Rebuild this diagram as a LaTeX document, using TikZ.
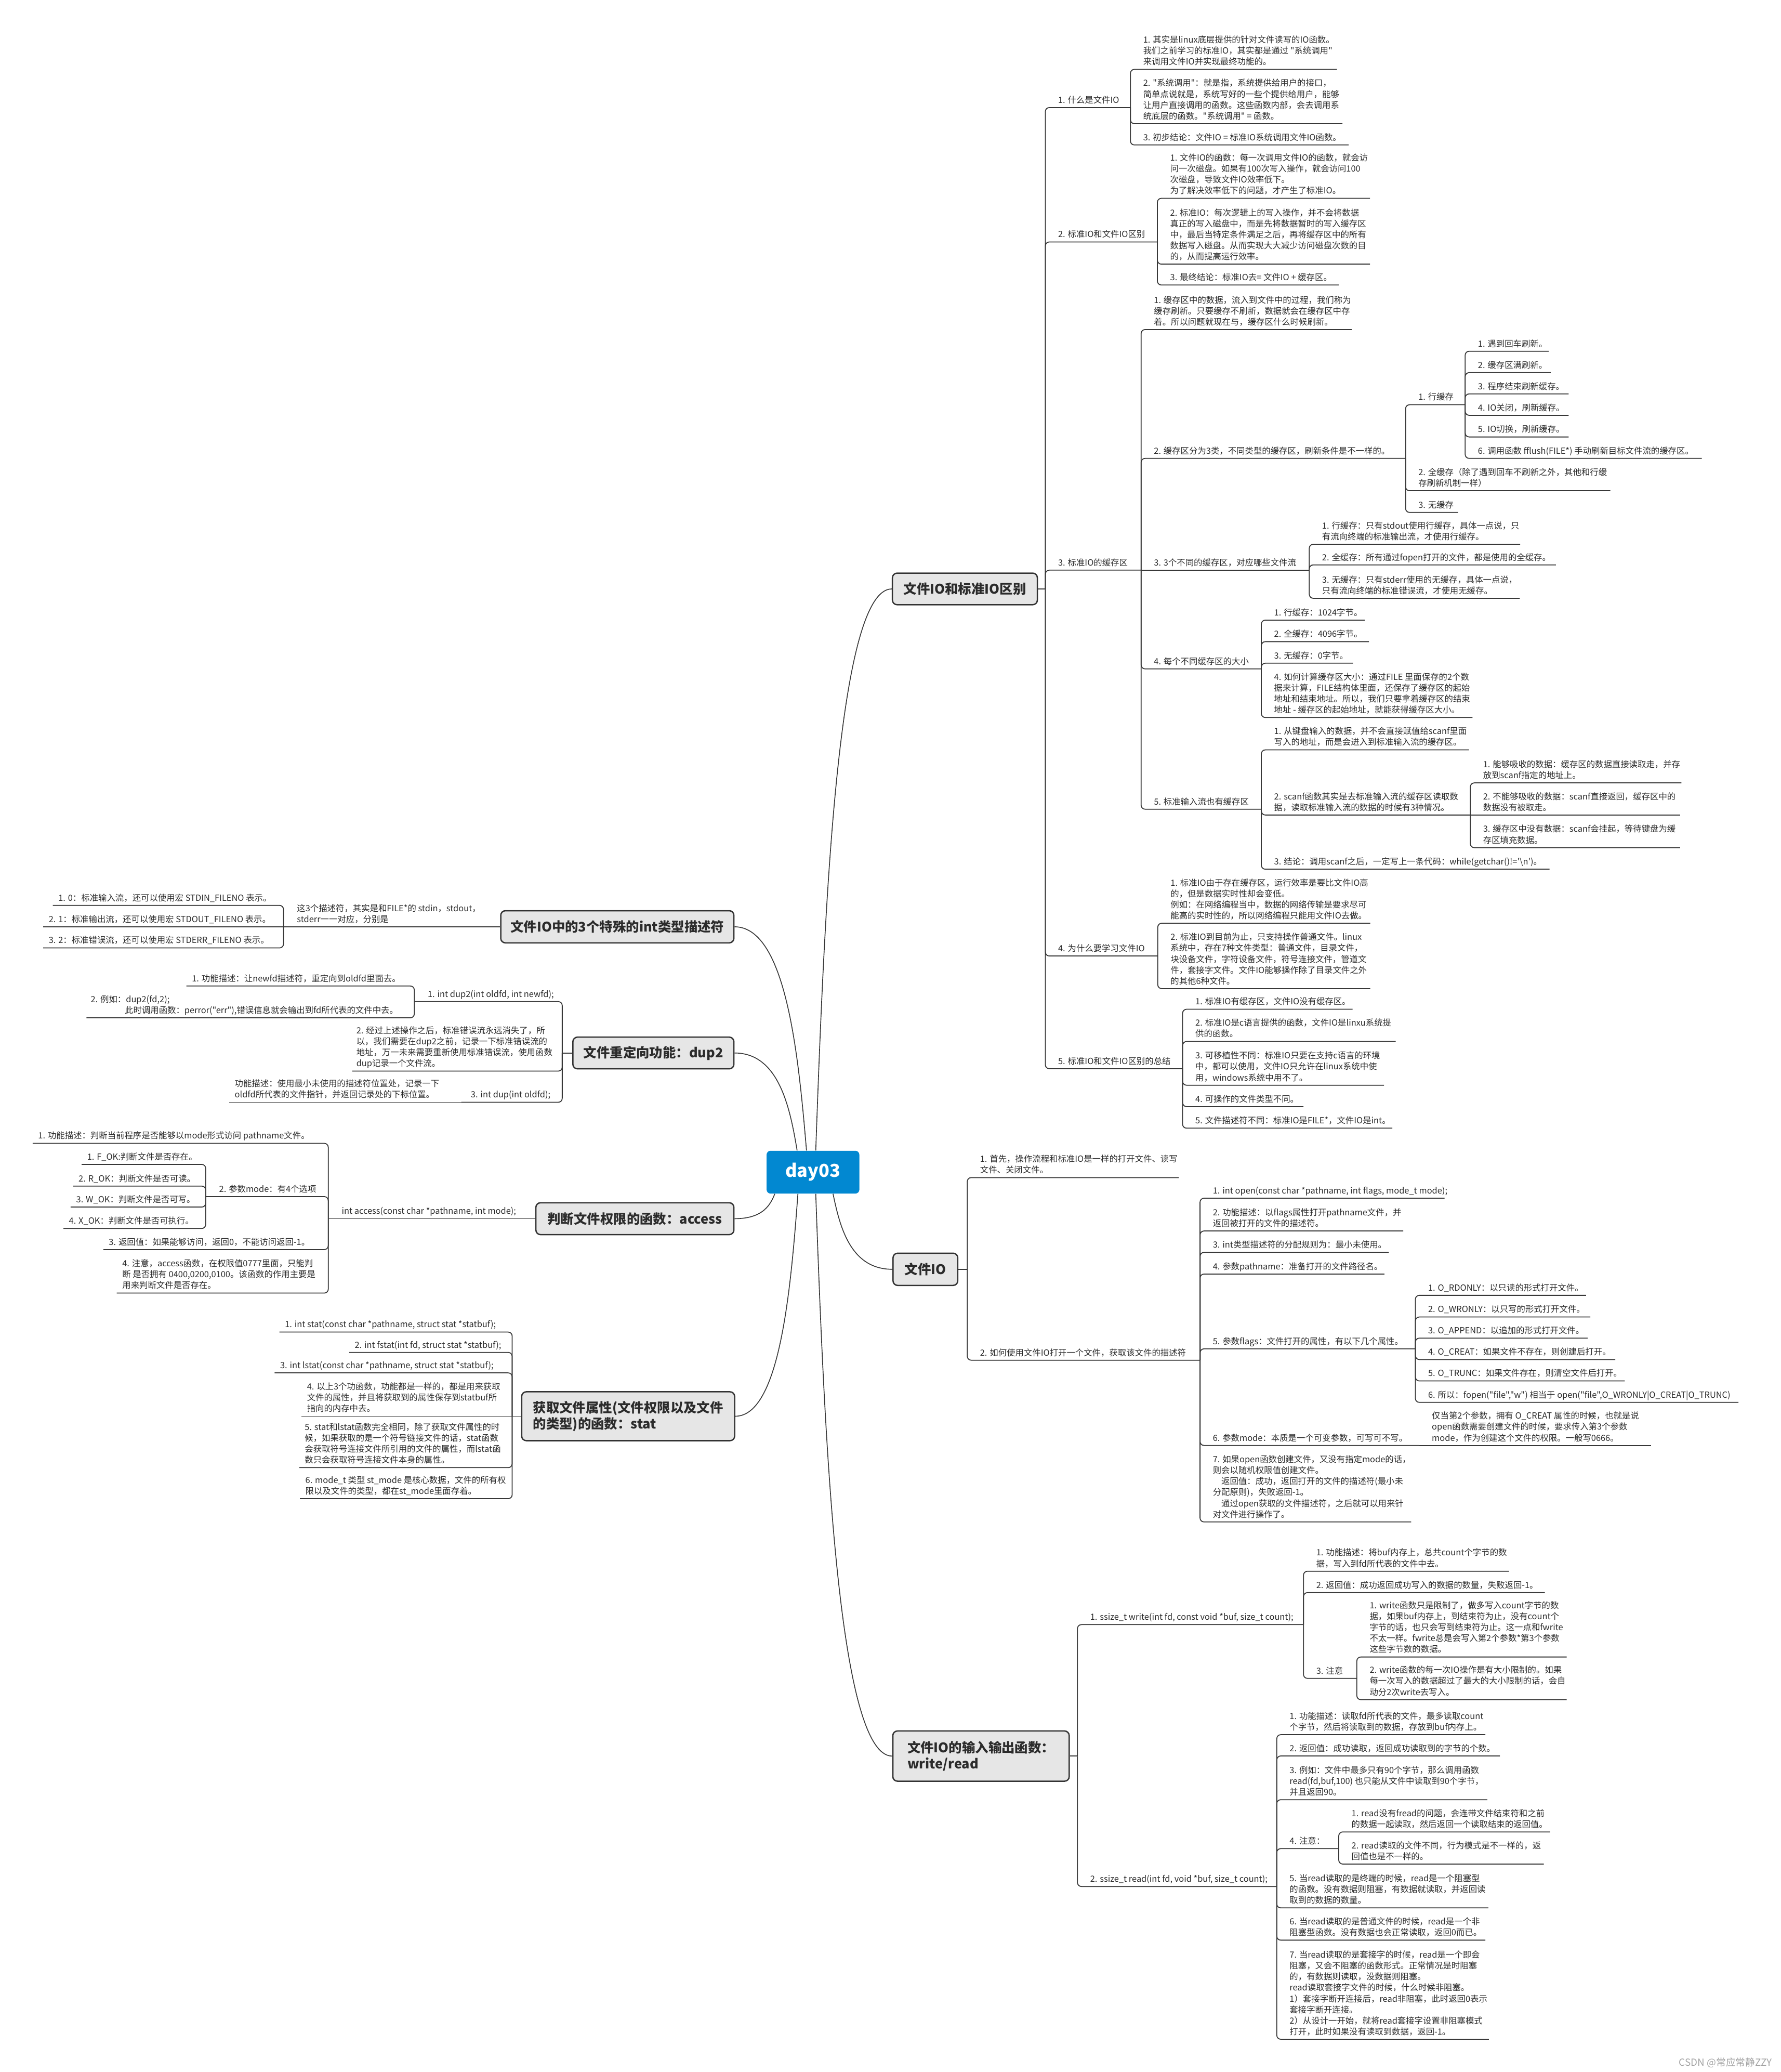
\documentclass[tikz,border=0pt]{standalone}
\usepackage{fontspec}
\newfontfamily\cjk{Noto Sans CJK SC}
\definecolor{linecol}{HTML}{383838}
\definecolor{txtcol}{HTML}{2B2B2B}
\definecolor{boxfill}{HTML}{E6E6E6}
\definecolor{boxline}{HTML}{333333}
\definecolor{rootblue}{HTML}{0288D1}
\definecolor{wmark}{HTML}{A3A3A3}
\tikzset{
  ln/.style={draw=linecol, line width=0.7pt, rounded corners=3pt},
  curve/.style={draw=linecol, line width=0.65pt},
  txt/.style={inner sep=0pt, align=left, text depth=0pt, text=txtcol, font={\cjk\fontsize{6.45}{8.3}\selectfont}},
  mainbox/.style={draw=boxline, fill=boxfill, line width=1pt, rounded corners=3.5pt, text=txtcol, align=left, inner sep=0pt, font={\cjk\bfseries\fontsize{10}{12}\selectfont}},
  rootbox/.style={fill=rootblue, rounded corners=3pt, text=white, inner sep=0pt, font={\cjk\bfseries\fontsize{13.5}{15}\selectfont}},
}
% right-side child: name, parent, y, underline end x, text
\newcommand\myR[5]{\coordinate (#1) at (#4,#3);\path (#2 |- #1) ++(9.5,-3.2) node[txt,anchor=south west] (#1t) {#5};\draw[ln] (#2) |- (#1);}
\newcommand\myRs[5]{\coordinate (#1) at (#4,#3);\path (#2) ++(9.5,-3.2) node[txt,anchor=south west] (#1t) {#5};\draw[ln] (#2) -- (#1);}
% left-side child: name, parent, y, underline left x, pad, text
\newcommand\myL[6]{\coordinate (#1) at (#4,#3);\path (#1) ++(#5,-3.2) node[txt,anchor=south west] (#1t) {#6};\draw[ln] (#2) |- (#1);}
\newcommand\myLs[6]{\coordinate (#1) at (#4,#3);\path (#1) ++(#5,-3.2) node[txt,anchor=south west] (#1t) {#6};\draw[ln] (#2) -- (#1);}
\begin{document}
\begin{tikzpicture}[x=1pt,y=-1pt]
\fill[white] (0,0) rectangle (1348.1,1568.1);
\useasboundingbox (0,0) rectangle (1348.1,1568.1);

% ---------- main topic boxes ----------
\node[mainbox,minimum width=109.7pt,minimum height=23.9pt] (A) at (730.4,445.7) {文件IO和标准IO区别};
\node[mainbox,minimum width=176.5pt,minimum height=24.3pt] (B) at (467.3,701.4) {文件IO中的3个特殊的int类型描述符};
\node[mainbox,minimum width=121.9pt,minimum height=24pt] (C) at (494.6,796.9) {文件重定向功能：dup2};
\node[mainbox,minimum width=149.9pt,minimum height=24.1pt] (D) at (480.6,922.3) {判断文件权限的函数：access};
\node[mainbox,minimum width=161.2pt,minimum height=37pt] (E) at (475.5,1071.8) {获取文件属性(文件权限以及文件\\的类型)的函数：stat};
\node[mainbox,minimum width=49pt,minimum height=24.4pt] (F) at (700.5,960.6) {文件IO};
\node[mainbox,minimum width=133.5pt,minimum height=38pt] (G) at (742.6,1329) {文件IO的输入输出函数：\\write/read};

% ---------- root and curves ----------
\node[rootbox,minimum width=70.2pt,minimum height=32.4pt] (root) at (615.4,887.1) {day03};
\draw[curve] ([xshift=2.1pt]root.north) .. controls (623.9,692.3) and (633.7,445.7) .. (A.west);
\draw[curve] ([xshift=-4.9pt]root.north) .. controls (604.5,799.7) and (595.2,701.4) .. (B.east);
\draw[curve] ([xshift=-12pt]root.north) .. controls (598.2,839.8) and (590.1,796.9) .. (C.east);
\draw[curve] ([xshift=6.4pt]root.south west) .. controls (583.3,911.3) and (578.1,922.3) .. (D.east);
\draw[curve] ([xshift=-11.4pt]root.south) .. controls (598.7,974) and (590.6,1071.8) .. (E.east);
\draw[curve] ([xshift=15.2pt]root.south) .. controls (635.6,927.4) and (643.3,960.6) .. (F.west);
\draw[curve] ([xshift=2.1pt]root.south) .. controls (623.9,1082) and (633.8,1329) .. (G.west);

% ---------- A: 文件IO和标准IO区别 ----------
\coordinate (Ab) at (791.3,445.7);
\draw[ln] (A.east) -- (Ab);
\myR{a1}{Ab}{81.4}{855.7}{1. 什么是文件IO}
\myR{a11}{a1}{52.5}{1012.1}{1. 其实是linux底层提供的针对文件读写的IO函数。\\我们之前学习的标准IO，其实都是通过 "系统调用"\\来调用文件IO并实现最终功能的。}
\myR{a12}{a1}{93.6}{1016.2}{2. "系统调用"：就是指，系统提供给用户的接口，\\简单点说就是，系统写好的一些个提供给用户，能够\\让用户直接调用的函数。这些函数内部，会去调用系\\统底层的函数。"系统调用" = 函数。}
\myR{a13}{a1}{109.7}{1020.9}{3. 初步结论：文件IO = 标准IO系统调用文件IO函数。}
\myR{a2}{Ab}{183.1}{876.1}{2. 标准IO和文件IO区别}
\myR{a21}{a2}{150.1}{1037}{1. 文件IO的函数：每一次调用文件IO的函数，就会访\\问一次磁盘。如果有100次写入操作，就会访问100\\次磁盘，导致文件IO效率低下。\\为了解决效率低下的问题，才产生了标准IO。}
\myR{a22}{a2}{199.9}{1037}{2. 标准IO：每次逻辑上的写入操作，并不会将数据\\真正的写入磁盘中，而是先将数据暂时的写入缓存区\\中，最后当特定条件满足之后，再将缓存区中的所有\\数据写入磁盘。从而实现大大减少访问磁盘次数的目\\的，从而提高运行效率。}
\myR{a23}{a2}{215.7}{1013.4}{3. 最终结论：标准IO去= 文件IO + 缓存区。}
\myR{a3}{Ab}{431.5}{863.8}{3. 标准IO的缓存区}
\myR{a31}{a3}{249.4}{1023.3}{1. 缓存区中的数据，流入到文件中的过程，我们称为\\缓存刷新。只要缓存不刷新，数据就会在缓存区中存\\着。所以问题就现在与，缓存区什么时候刷新。}
\myR{a32}{a3}{346.9}{1064}{2. 缓存区分为3类，不同类型的缓存区，刷新条件是不一样的。}
\myR{a321}{a32}{306.3}{1109.1}{1. 行缓存}
\myR{a3211}{a321}{265.8}{1172.3}{1. 遇到回车刷新。}
\myR{a3212}{a321}{282}{1173.8}{2. 缓存区满刷新。}
\myR{a3213}{a321}{298.1}{1187.4}{3. 程序结束刷新缓存。}
\myR{a3214}{a321}{314.3}{1187.4}{4. IO关闭，刷新缓存。}
\myR{a3215}{a321}{330.7}{1187.4}{5. IO切换，刷新缓存。}
\myR{a3216}{a321}{346.9}{1288.2}{6. 调用函数 fflush(FILE*) 手动刷新目标文件流的缓存区。}
\myR{a322}{a32}{371.4}{1219}{2. 全缓存（除了遇到回车不刷新之外，其他和行缓\\存刷新机制一样）}
\myR{a323}{a32}{387.8}{1103.7}{3. 无缓存}
\myRs{a33}{a3}{431.5}{991.1}{3. 3个不同的缓存区，对应哪些文件流}
\myR{a331}{a33}{411.9}{1150.7}{1. 行缓存：只有stdout使用行缓存，具体一点说，只\\有流向终端的标准输出流，才使用行缓存。}
\myR{a332}{a33}{427.5}{1177.8}{2. 全缓存：所有通过fopen打开的文件，都是使用的全缓存。}
\myR{a333}{a33}{452.8}{1150.4}{3. 无缓存：只有stderr使用的无缓存，具体一点说，\\只有流向终端的标准错误流，才使用无缓存。}
\myR{a34}{a3}{506.2}{954.8}{4. 每个不同缓存区的大小}
\myR{a341}{a34}{469.3}{1033}{1. 行缓存：1024字节。}
\myR{a342}{a34}{485.6}{1036.3}{2. 全缓存：4096字节。}
\myR{a343}{a34}{501.9}{1024.2}{3. 无缓存：0字节。}
\myR{a344}{a34}{543}{1114.6}{4. 如何计算缓存区大小：通过FILE 里面保存的2个数\\据来计算，FILE结构体里面，还保存了缓存区的起始\\地址和结束地址。所以，我们只要拿着缓存区的结束\\地址 - 缓存区的起始地址，就能获得缓存区大小。}
\myR{a35}{a3}{612.4}{954.8}{5. 标准输入流也有缓存区}
\myR{a351}{a35}{567.5}{1112}{1. 从键盘输入的数据，并不会直接赋值给scanf里面\\写入的地址，而是会进入到标准输入流的缓存区。}
\myR{a352}{a35}{616.8}{1113}{2. scanf函数其实是去标准输入流的缓存区读取数\\据，读取标准输入流的数据的时候有3种情况。}
\myR{a3521}{a352}{592.5}{1272.8}{1. 能够吸收的数据：缓存区的数据直接读取走，并存\\放到scanf指定的地址上。}
\myRs{a3522}{a352}{616.8}{1271.8}{2. 不能够吸收的数据：scanf直接返回，缓存区中的\\数据没有被取走。}
\myR{a3523}{a352}{641.5}{1271.8}{3. 缓存区中没有数据：scanf会挂起，等待键盘为缓\\存区填充数据。}
\myR{a353}{a35}{657.8}{1173}{3. 结论：调用scanf之后，一定写上一条代码：while(getchar()!='\textbackslash n')。}
\myR{a4}{Ab}{723.5}{876.4}{4. 为什么要学习文件IO}
\myR{a41}{a4}{698.7}{1037.2}{1. 标准IO由于存在缓存区，运行效率是要比文件IO高\\的，但是数据实时性却会变低。\\例如：在网络编程当中，数据的网络传输是要求尽可\\能高的实时性的，所以网络编程只能用文件IO去做。}
\myR{a42}{a4}{748.2}{1037.2}{2. 标准IO到目前为止，只支持操作普通文件。linux\\系统中，存在7种文件类型：普通文件，目录文件，\\块设备文件，字符设备文件，符号连接文件，管道文\\件，套接字文件。文件IO能够操作除了目录文件之外\\的其他6种文件。}
\myR{a5}{Ab}{808.8}{895.2}{5. 标准IO和文件IO区别的总结}
\myR{a51}{a5}{763.8}{1023.9}{1. 标准IO有缓存区，文件IO没有缓存区。}
\myR{a52}{a5}{788.2}{1056.5}{2. 标准IO是c语言提供的函数，文件IO是linxu系统提\\供的函数。}
\myR{a53}{a5}{821.3}{1047.7}{3. 可移植性不同：标准IO只要在支持c语言的环境\\中，都可以使用，文件IO只允许在linux系统中使\\用，windows系统中用不了。}
\myR{a54}{a5}{837.5}{986.7}{4. 可操作的文件类型不同。}
\myR{a55}{a5}{853.8}{1054}{5. 文件描述符不同：标准IO是FILE*，文件IO是int。}

% ---------- F: 文件IO ----------
\coordinate (Fb) at (732.2,960.6);
\draw[ln] (F.east) -- (Fb);
\myR{f1}{Fb}{891.2}{892.4}{1. 首先，操作流程和标准IO是一样的打开文件、读写\\文件、关闭文件。}
\myR{f2}{Fb}{1029.4}{908.4}{2. 如何使用文件IO打开一个文件，获取该文件的描述符}
\myR{f21}{f2}{906.8}{1093.5}{1. int open(const char *pathname, int flags, mode\_t mode);}
\myR{f22}{f2}{931.6}{1062.2}{2. 功能描述：以flags属性打开pathname文件，并\\返回被打开的文件的描述符。}
\myR{f23}{f2}{947.8}{1051.3}{3. int类型描述符的分配规则为：最小未使用。}
\myR{f24}{f2}{964.2}{1048}{4. 参数pathname：准备打开的文件路径名。}
\myR{f25}{f2}{1020.8}{1071.4}{5. 参数flags：文件打开的属性，有以下几个属性。}
\myR{f251}{f25}{980.3}{1200.6}{1. O\_RDONLY：以只读的形式打开文件。}
\myR{f252}{f25}{996.7}{1203.8}{2. O\_WRONLY：以只写的形式打开文件。}
\myR{f253}{f25}{1012.7}{1201.8}{3. O\_APPEND：以追加的形式打开文件。}
\myR{f254}{f25}{1028.9}{1222.7}{4. O\_CREAT：如果文件不存在，则创建后打开。}
\myR{f255}{f25}{1045.1}{1229.9}{5. O\_TRUNC：如果文件存在，则清空文件后打开。}
\myR{f256}{f25}{1061.3}{1316}{6. 所以：fopen("file","w") 相当于 open("file",O\_WRONLY|O\_CREAT|O\_TRUNC)}
\myR{f26}{f2}{1093.9}{1074.2}{6. 参数mode：本质是一个可变参数，可写可不写。}
\myRs{f261}{f26}{1093.9}{1250}{仅当第2个参数，拥有 O\_CREAT 属性的时候，也就是说\\open函数需要创建文件的时候，要求传入第3个参数\\mode，作为创建这个文件的权限。一般写0666。}
\myR{f27}{f2}{1151.8}{1068.2}{7. 如果open函数创建文件，又没有指定mode的话，\\则会以随机权限值创建文件。\\\hspace*{1em}返回值：成功，返回打开的文件的描述符(最小未\\分配原则)，失败返回-1。\\\hspace*{1em}通过open获取的文件描述符，之后就可以用来针\\对文件进行操作了。}

% ---------- G: write/read ----------
\coordinate (Gb) at (815.6,1329);
\draw[ln] (G.east) -- (Gb);
\myR{g1}{Gb}{1229.5}{986.7}{1. ssize\_t write(int fd, const void *buf, size\_t count);}
\myR{g11}{g1}{1189.1}{1142.3}{1. 功能描述：将buf内存上，总共count个字节的数\\据，写入到fd所代表的文件中去。}
\myR{g12}{g1}{1205.3}{1169.4}{2. 返回值：成功返回成功写入的数据的数量，失败返回-1。}
\myR{g13}{g1}{1270.2}{1027.1}{3. 注意}
\myR{g131}{g13}{1254}{1185.9}{1. write函数只是限制了，做多写入count字节的数\\据，如果buf内存上，到结束符为止，没有count个\\字节的话，也只会写到结束符为止。这一点和fwrite\\不太一样。fwrite总是会写入第2个参数*第3个参数\\这些字节数的数据。}
\myR{g132}{g13}{1286.3}{1185.9}{2. write函数的每一次IO操作是有大小限制的。如果\\每一次写入的数据超过了最大的大小限制的话，会自\\动分2次write去写入。}
\myR{g2}{Gb}{1427.7}{966.5}{2. ssize\_t read(int fd, void *buf, size\_t count);}
\myR{g21}{g2}{1312.8}{1124.4}{1. 功能描述：读取fd所代表的文件，最多读取count\\个字节，然后将读取到的数据，存放到buf内存上。}
\myR{g22}{g2}{1328.9}{1135.4}{2. 返回值：成功读取，返回成功读取到的字节的个数。}
\myR{g23}{g2}{1362}{1125.9}{3. 例如：文件中最多只有90个字节，那么调用函数\\read(fd,buf,100) 也只能从文件中读取到90个字节，\\并且返回90。}
\myR{g24}{g2}{1399}{1013.4}{4. 注意：}
\myR{g241}{g24}{1386.4}{1173.5}{1. read没有fread的问题，会连带文件结束符和之前\\的数据一起读取，然后返回一个读取结束的返回值。}
\myR{g242}{g24}{1410.7}{1168.6}{2. read读取的文件不同，行为模式是不一样的，返\\回值也是不一样的。}
\myR{g25}{g2}{1443.9}{1126.6}{5. 当read读取的是终端的时候，read是一个阻塞型\\的函数。没有数据则阻塞，有数据就读取，并返回读\\取到的数据的数量。}
\myR{g26}{g2}{1468.3}{1124.4}{6. 当read读取的是普通文件的时候，read是一个非\\阻塞型函数。没有数据也会正常读取，返回0而已。}
\myR{g27}{g2}{1543.3}{1127}{7. 当read读取的是套接字的时候，read是一个即会\\阻塞，又会不阻塞的函数形式。正常情况是时阻塞\\的，有数据则读取，没数据则阻塞。\\read读取套接字文件的时候，什么时候非阻塞。\\1）套接字断开连接后，read非阻塞，此时返回0表示\\套接字断开连接。\\2）从设计一开始，就将read套接字设置非阻塞模式\\打开，此时如果没有读取到数据，返回-1。}

% ---------- B: 3 special descriptors ----------
\myLs{b1}{B.west}{701.4}{214.6}{10}{这3个描述符，其实是和FILE*的 stdin，stdout，\\stderr一一对应，分别是}
\myL{b11}{b1}{685.2}{40}{4}{1. 0：标准输入流，还可以使用宏 STDIN\_FILENO 表示。}
\myLs{b12}{b1}{701.4}{32.7}{4}{2. 1：标准输出流，还可以使用宏 STDOUT\_FILENO 表示。}
\myL{b13}{b1}{717.4}{32.7}{4}{3. 2：标准错误流，还可以使用宏 STDERR\_FILENO 表示。}

% ---------- C: dup2 ----------
\coordinate (Cb) at (425.6,796.9);
\draw[ln] (C.west) -- (Cb);
\myL{c1}{Cb}{758}{313.6}{10}{1. int dup2(int oldfd, int newfd);}
\myL{c11}{c1}{746.2}{141.1}{4}{1. 功能描述：让newfd描述符，重定向到oldfd里面去。}
\myL{c12}{c1}{770.3}{65.5}{3}{2. 例如：dup2(fd,2);\\\hspace*{4em}此时调用函数：perror("err"),错误信息就会输出到fd所代表的文件中去。}
\myL{c2}{Cb}{810.6}{266.6}{3}{2. 经过上述操作之后，标准错误流永远消失了，所\\以，我们需要在dup2之前，记录一下标准错误流的\\地址，万一未来需要重新使用标准错误流，使用函数\\dup记录一个文件流。}
\myL{c3}{Cb}{834.2}{349.2}{7}{3. int dup(int oldfd);}
\myLs{c31}{c3}{834.2}{173.5}{4}{功能描述：使用最小未使用的描述符位置处，记录一下\\oldfd所代表的文件指针，并返回记录处的下标位置。}

% ---------- D: access ----------
\myLs{d0}{D.west}{922.3}{248.5}{10}{int access(const char *pathname, int mode);}
\myL{d1}{d0}{865.3}{24.7}{4}{1. 功能描述：判断当前程序是否能够以mode形式访问 pathname文件。}
\myL{d2}{d0}{905.6}{155.7}{10}{2. 参数mode：有4个选项}
\myL{d21}{d2}{881.2}{61.8}{4}{1. F\_OK:判断文件是否存在。}
\myL{d22}{d2}{897.6}{55.3}{4}{2. R\_OK：判断文件是否可读。}
\myL{d23}{d2}{913.5}{53.5}{4}{3. W\_OK：判断文件是否可写。}
\myL{d24}{d2}{929.7}{48}{4}{4. X\_OK：判断文件是否可执行。}
\myL{d3}{d0}{945.7}{78.2}{4}{3. 返回值：如果能够访问，返回0，不能访问返回-1。}
\myL{d4}{d0}{978.6}{88.4}{4}{4. 注意，access函数，在权限值0777里面，只能判\\断 是否拥有 0400,0200,0100。该函数的作用主要是\\用来判断文件是否存在。}

% ---------- E: stat ----------
\coordinate (Eb) at (387.7,1071.8);
\draw[ln] (E.west) -- (Eb);
\myL{e1}{Eb}{1008.1}{211.5}{4}{1. int stat(const char *pathname, struct stat *statbuf);}
\myL{e2}{Eb}{1023.5}{264.3}{4}{2. int fstat(int fd, struct stat *statbuf);}
\myL{e3}{Eb}{1039}{207.9}{4}{3. int lstat(const char *pathname, struct stat *statbuf);}
\myLs{e4}{Eb}{1071.8}{228.2}{4}{4. 以上3个功函数，功能都是一样的，都是用来获取\\文件的属性，并且将获取到的属性保存到statbuf所\\指向的内存中去。}
\myL{e5}{Eb}{1110.7}{226.5}{4}{5. stat和lstat函数完全相同，除了获取文件属性的时\\候，如果获取的是一个符号链接文件的话，stat函数\\会获取符号连接文件所引用的文件的属性，而lstat函\\数只会获取符号连接文件本身的属性。}
\myL{e6}{Eb}{1134.2}{227}{4}{6. mode\_t 类型 st\_mode 是核心数据，文件的所有权\\限以及文件的类型，都在st\_mode里面存着。}

% ---------- watermark ----------
\node[font={\cjk\fontsize{7.4}{9}\selectfont}, text=wmark, anchor=east, inner sep=0pt] (wm) at (1341.5,1561) {CSDN @常应常静ZZY};
\end{tikzpicture}
\end{document}
